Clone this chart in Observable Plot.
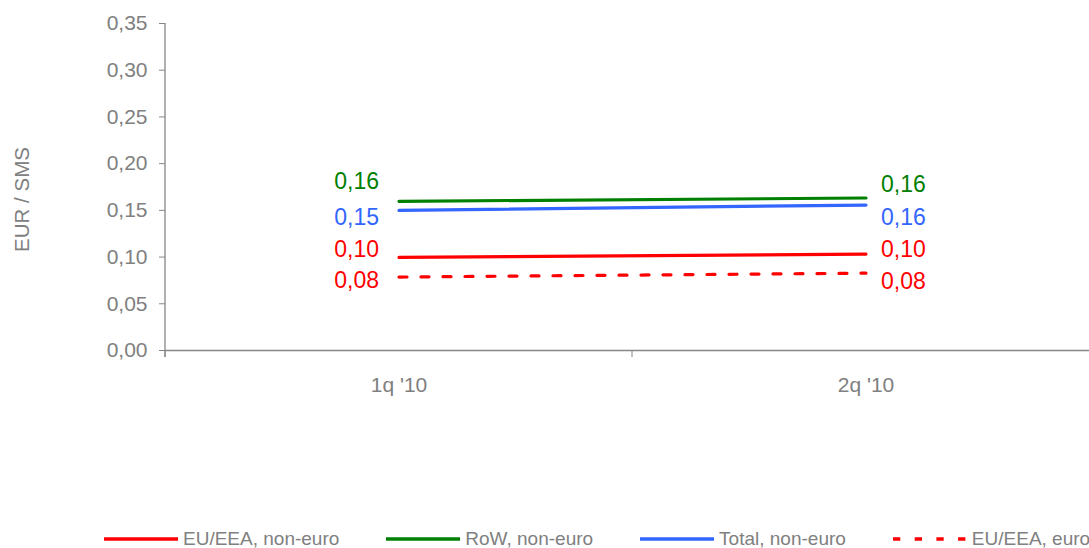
<!DOCTYPE html>
<html><head><meta charset="utf-8">
<script src="https://cdn.jsdelivr.net/npm/d3@7"></script>
<script src="https://cdn.jsdelivr.net/npm/@observablehq/plot@0.6"></script>
<style>
html,body{margin:0;padding:0;background:#fff;overflow:hidden;}
#legend{height:22px;display:flex;align-items:center;padding-left:104px;gap:47px;font-family:"Liberation Sans",Arial,sans-serif;font-size:19px;color:#808080;white-space:nowrap;}
.item{display:flex;align-items:center;}
.item svg{margin-right:5px;}
</style></head><body>
<div id="chart"></div>
<div id="legend"></div>
<script>
// ---- data ----
const quarters = ["1q '10", "2q '10"];
const seriesNames = ["EU/EEA, non-euro", "RoW, non-euro", "Total, non-euro", "EU/EEA, euro"];
const euNonEuro   = [0.0996, 0.1032];
const rowNonEuro  = [0.1597, 0.1632];
const totalNonEuro= [0.1500, 0.1557];
const euEuro      = [0.0786, 0.0828];
const yTicks = [0, 0.05, 0.10, 0.15, 0.20, 0.25, 0.30, 0.35];
const yTitle = "EUR / SMS";

// ---- styles ----
const seriesValues = [euNonEuro, rowNonEuro, totalNonEuro, euEuro];
const colors = ["#FF0000", "#008000", "#3366FF", "#FF0000"];
const dashes = [null, null, null, "8,14"];
const labelDyLeft  = [-7.5, -20, 7, 3.5];
const labelDyRight = [-4.7, -13.7, 12.8, 8.3];

const fmt = d => d3.format(".2f")(d).replace(".", ",");

const marks = [
  Plot.ruleY([0], {stroke: "#868686", strokeWidth: 1.3}),
  Plot.axisY({ticks: yTicks, tickSize: 6, tickPadding: 12, tickFormat: fmt, label: null, stroke: "#868686"}),
  Plot.axisX({tickSize: 0, tickPadding: 27, label: null}),
  Plot.text([yTitle], {frameAnchor: "left", textAnchor: "middle", dx: -143, dy: 12.5, rotate: -90, fontSize: 20.5, fill: "#808080"})
];

seriesValues.forEach((vals, i) => {
  const rows = quarters.map((q, j) => ({q, v: vals[j]}));
  marks.push(Plot.line(rows, {x: "q", y: "v", stroke: colors[i], strokeWidth: 3.2, strokeDasharray: dashes[i] || undefined}));
  marks.push(Plot.text([rows[0]], {x: "q", y: "v", text: d => fmt(d.v), fill: colors[i], fontSize: 23, textAnchor: "end", dx: -20, dy: labelDyLeft[i]}));
  marks.push(Plot.text([rows[rows.length - 1]], {x: "q", y: "v", text: d => fmt(d.v), fill: colors[i], fontSize: 23, textAnchor: "start", dx: 15, dy: labelDyRight[i]}));
});

const plot = Plot.plot({
  width: 1089,
  height: 528,
  marginLeft: 165,
  marginRight: 0,
  marginTop: 23,
  marginBottom: 178,
  style: {fontFamily: "'Liberation Sans', Arial, sans-serif", fontSize: "21px", color: "#808080", background: "#fff"},
  x: {type: "band", domain: quarters, range: [165, 1099], padding: 0},
  y: {domain: [0, 0.35]},
  marks
});
document.getElementById("chart").appendChild(plot);

// axis line and category-boundary ticks, from the plot's own scales
const xs = plot.scale("x"), ys = plot.scale("y");
const svg = d3.select(plot);
const y0 = ys.apply(0), yTop = ys.apply(0.35);
const bounds = quarters.map(q => xs.apply(q)).concat([xs.apply(quarters[quarters.length - 1]) + xs.bandwidth]);
svg.append("line").attr("x1", bounds[0]).attr("x2", bounds[0]).attr("y1", yTop).attr("y2", y0 + 7)
  .attr("stroke", "#868686").attr("stroke-width", 1.3);
bounds.forEach(b => {
  svg.append("line").attr("x1", b).attr("x2", b).attr("y1", y0).attr("y2", y0 + 7).attr("stroke", "#868686").attr("stroke-width", 1);
});

// legend
const legend = d3.select("#legend");
seriesNames.forEach((name, i) => {
  const item = legend.append("div").attr("class", "item");
  const s = item.append("svg").attr("width", 74).attr("height", 8);
  s.append("line").attr("x1", 0).attr("x2", 74).attr("y1", 4).attr("y2", 4)
    .attr("stroke", colors[i]).attr("stroke-width", 3.4)
    .attr("stroke-dasharray", dashes[i] ? "7.3,14.4" : null);
  item.append("span").text(name);
});
</script>
</body></html>
